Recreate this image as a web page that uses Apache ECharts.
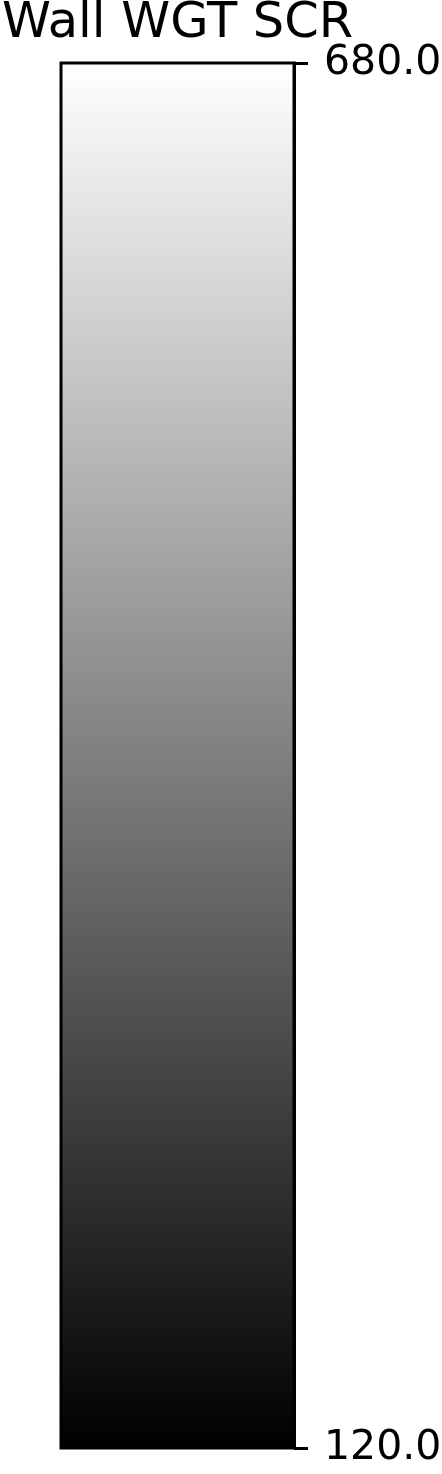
<!DOCTYPE html>
<html>
<head>
<meta charset="utf-8">
<script src="https://cdn.jsdelivr.net/npm/echarts@6/dist/echarts.min.js"></script>
<style>
html,body{margin:0;padding:0;background:#fff;}
#chart{width:442px;height:1474px;}
</style>
</head>
<body>
<div id="chart"></div>
<script>
const titleText = 'Wall WGT SCR';
const categories = ['Wall WGT SCR'];
const rangeMin = 120.0;
const rangeMax = 680.0;
const tickValues = [120.0, 680.0];
const colorStops = ['#ffffff', '#000000']; // top (max) -> bottom (min), gray colormap

const chart = echarts.init(document.getElementById('chart'), null, {renderer: 'canvas'});
const font = 'DejaVu Sans';
chart.setOption({
  animation: false,
  backgroundColor: '#ffffff',
  title: {
    text: titleText,
    left: 2,
    top: -1,
    padding: 0,
    textStyle: {fontFamily: font, fontSize: 49.5, fontWeight: 'normal', color: '#000'}
  },
  grid: {
    left: 61, top: 63, width: 233, height: 1385,
    containLabel: false, outerBoundsMode: 'none',
    show: true, z: 10, borderColor: '#000', borderWidth: 3, backgroundColor: 'transparent'
  },
  xAxis: {
    type: 'category', data: categories, show: false,
    boundaryGap: true
  },
  yAxis: {
    type: 'value', position: 'right', z: 11,
    min: rangeMin, max: rangeMax, interval: rangeMax - rangeMin,
    splitLine: {show: false},
    axisLine: {show: true, lineStyle: {color: '#000', width: 3}},
    axisTick: {show: true, length: 14, lineStyle: {color: '#000', width: 3}},
    axisLabel: {
      show: true, margin: 30, color: '#000', fontFamily: font, fontSize: 41,
      padding: [7, 0, 0, 0],
      formatter: v => tickValues.some(t => Math.abs(t - v) < 1e-9) ? v.toFixed(1) : ''
    }
  },
  series: [
    {
      type: 'bar', stack: 'cb', data: [rangeMin], barWidth: '100%',
      itemStyle: {color: 'rgba(0,0,0,0)'}, silent: true
    },
    {
      type: 'bar', stack: 'cb', data: [rangeMax - rangeMin], barWidth: '100%',
      itemStyle: {
        color: new echarts.graphic.LinearGradient(0, 0, 0, 1, [
          {offset: 0, color: colorStops[0]},
          {offset: 1, color: colorStops[1]}
        ])
      },
      silent: true
    }
  ]
});
</script>
</body>
</html>
